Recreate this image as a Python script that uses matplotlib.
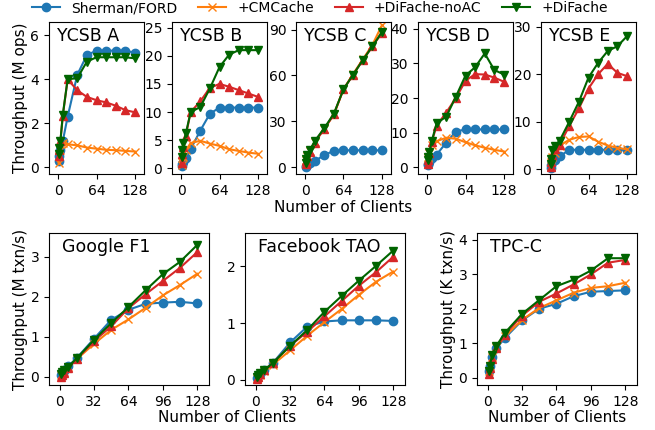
import matplotlib
matplotlib.use("Agg")
from matplotlib import pyplot as plt

# client counts (same for every workload)
clients = [1, 2, 4, 8, 16, 32, 48, 64, 80, 96, 112, 128]

series_names = ["Sherman/FORD", "+CMCache", "+DiFache-noAC", "+DiFache"]
colors = ["tab:blue", "tab:orange", "tab:red", "darkgreen"]
markers = ["o", "x", "^", "v"]

# YCSB throughput, M ops
ycsb_a = [
  [0.3, 0.5, 0.8, 1.2, 2.3, 4.2, 5.1, 5.3, 5.3, 5.3, 5.3, 5.2],
  [0.2, 0.5, 0.8, 1.1, 1.05, 1.0, 0.9, 0.85, 0.8, 0.78, 0.75, 0.72],
  [0.5, 0.8, 1.2, 2.35, 4.0, 3.5, 3.2, 3.05, 2.95, 2.8, 2.6, 2.5],
  [0.6, 0.9, 1.2, 2.4, 4.0, 4.05, 4.8, 5.0, 5.0, 5.0, 5.0, 4.95],
]
ycsb_b = [
  [0.5, 0.8, 1.2, 1.9, 3.4, 6.7, 9.7, 10.8, 10.8, 10.8, 10.8, 10.8],
  [0.6, 1.2, 2.0, 3.2, 4.5, 4.9, 4.4, 4.0, 3.4, 3.1, 2.8, 2.6],
  [1.0, 2.5, 3.8, 5.8, 10.0, 11.9, 14.3, 15.0, 14.5, 13.9, 13.3, 12.7],
  [2.0, 3.2, 4.5, 6.2, 10.0, 10.9, 14.2, 18.0, 20.2, 21.0, 21.0, 21.0],
]
ycsb_c = [
  [0.3, 0.6, 1.2, 2.5, 4.0, 7.8, 10.8, 11.0, 11.0, 11.0, 11.0, 11.0],
  [2.5, 4.5, 7.5, 10.5, 16.5, 25.0, 34.5, 51.0, 61.0, 70.5, 80.0, 93.0],
  [2.0, 4.0, 7.0, 10.0, 16.0, 25.0, 34.5, 51.0, 60.5, 70.0, 79.0, 88.0],
  [3.0, 5.0, 8.0, 11.0, 17.0, 25.5, 35.0, 51.0, 60.5, 70.0, 79.0, 88.5],
]
ycsb_d = [
  [0.5, 0.9, 1.5, 2.5, 3.6, 7.1, 10.3, 10.9, 10.9, 10.9, 10.9, 10.9],
  [1.0, 2.5, 4.0, 6.5, 7.5, 8.5, 8.2, 7.2, 6.3, 5.6, 5.0, 4.5],
  [1.0, 2.0, 4.0, 7.4, 12.0, 15.8, 20.0, 25.0, 26.9, 26.8, 25.9, 24.7],
  [2.0, 3.0, 4.5, 7.6, 12.7, 14.6, 20.4, 26.5, 28.9, 32.9, 28.1, 26.8],
]
ycsb_e = [
  [0.3, 0.8, 1.5, 2.0, 2.7, 4.1, 4.1, 4.1, 4.1, 4.1, 4.1, 4.1],
  [0.7, 1.5, 2.5, 3.5, 5.0, 6.2, 6.8, 6.9, 5.8, 5.0, 4.5, 4.2],
  [0.5, 1.5, 3.0, 4.2, 5.2, 9.1, 12.8, 17.0, 20.0, 22.2, 20.3, 19.6],
  [1.2, 2.2, 4.0, 5.0, 6.0, 10.0, 14.2, 19.3, 22.4, 24.9, 25.9, 28.0],
]

# transactional workloads
google_f1 = [
  [0.05, 0.1, 0.15, 0.27, 0.48, 0.96, 1.43, 1.68, 1.83, 1.86, 1.88, 1.84],
  [0.05, 0.08, 0.13, 0.25, 0.45, 0.83, 1.18, 1.44, 1.73, 2.04, 2.3, 2.58],
  [0.0, 0.05, 0.1, 0.22, 0.45, 0.9, 1.27, 1.72, 2.07, 2.4, 2.73, 3.12],
  [0.08, 0.12, 0.17, 0.26, 0.47, 0.93, 1.35, 1.75, 2.17, 2.57, 2.88, 3.3],
]
facebook_tao = [
  [0.03, 0.06, 0.1, 0.17, 0.3, 0.66, 0.94, 1.03, 1.05, 1.05, 1.05, 1.04],
  [0.03, 0.05, 0.09, 0.15, 0.27, 0.52, 0.78, 1.02, 1.25, 1.5, 1.73, 1.91],
  [0.02, 0.05, 0.1, 0.17, 0.3, 0.6, 0.85, 1.12, 1.39, 1.66, 1.9, 2.17],
  [0.05, 0.08, 0.12, 0.17, 0.3, 0.6, 0.88, 1.2, 1.48, 1.75, 2.01, 2.28],
]
tpc_c = [
  [0.2, 0.35, 0.6, 0.85, 1.15, 1.66, 2.0, 2.14, 2.36, 2.49, 2.51, 2.53],
  [0.2, 0.35, 0.6, 0.88, 1.2, 1.68, 2.02, 2.24, 2.46, 2.6, 2.65, 2.75],
  [0.12, 0.28, 0.55, 0.85, 1.25, 1.8, 2.2, 2.44, 2.7, 2.99, 3.33, 3.41],
  [0.2, 0.35, 0.65, 0.92, 1.3, 1.85, 2.25, 2.65, 2.84, 3.1, 3.46, 3.46],
]

top_titles = ["YCSB A", "YCSB B", "YCSB C", "YCSB D", "YCSB E"]
top_data = [ycsb_a, ycsb_b, ycsb_c, ycsb_d, ycsb_e]
top_yticks = [[0, 2, 4, 6], [0, 5, 10, 15, 20, 25], [0, 30, 60, 90], [0, 10, 20, 30, 40], [0, 10, 20, 30]]
top_ylims = [(-0.3, 6.6), (-1.0, 26.0), (-4.5, 95.0), (-2.0, 42.0), (-1.0, 31.0)]

bot_titles = ["Google F1", "Facebook TAO", "TPC-C"]
bot_data = [google_f1, facebook_tao, tpc_c]
bot_yticks = [[0, 1, 2, 3], [0, 1, 2], [0, 1, 2, 3, 4]]
bot_ylims = [(-0.2, 3.6), (-0.09, 2.59), (-0.21, 4.19)]

W, H = 655.0, 430.0

def draw(ax, data, title, fs_title):
  for vals, c, m, name in zip(data, colors, markers, series_names):
    ax.plot(clients, vals, color=c, marker=m, markersize=6, linewidth=1.5, label=name)
  ax.text(0.08, 0.97, title, transform=ax.transAxes, fontsize=fs_title, va="top", ha="left")
  ax.tick_params(labelsize=10)

fig = plt.figure(figsize=(6.55, 4.3), dpi=100)

# top row
top_lefts = [49, 172, 296, 418, 541]
top_axes = []
for i in range(5):
  ax = fig.add_axes([top_lefts[i] / W, (H - 174) / H, 95 / W, 152 / H])
  draw(ax, top_data[i], top_titles[i], 12.5)
  ax.set_xlim(-15, 143)
  ax.set_xticks([0, 64, 128])
  ax.set_yticks(top_yticks[i])
  ax.set_ylim(*top_ylims[i])
  top_axes.append(ax)
top_axes[0].set_ylabel("Throughput (M ops)", fontsize=11, labelpad=2)
top_axes[2].set_xlabel("Number of Clients", fontsize=11, labelpad=2)

# bottom row
bot_lefts = [49, 245, 477]
bot_axes = []
for i in range(3):
  ax = fig.add_axes([bot_lefts[i] / W, (H - 385) / H, 160 / W, 152 / H])
  draw(ax, bot_data[i], bot_titles[i], 12.5)
  ax.set_xlim(-10, 139)
  ax.set_xticks([0, 32, 64, 96, 128])
  ax.set_yticks(bot_yticks[i])
  ax.set_ylim(*bot_ylims[i])
  bot_axes.append(ax)
bot_axes[0].set_ylabel("Throughput (M txn/s)", fontsize=11, labelpad=2)
bot_axes[2].set_ylabel("Throughput (K txn/s)", fontsize=11, labelpad=2)
bot_axes[2].set_xlabel("Number of Clients", fontsize=11, labelpad=1)
fig.text(227 / W, 1 - 418 / H, "Number of Clients", fontsize=11, ha="center", va="center")

handles, labels = top_axes[0].get_legend_handles_labels()
fig.legend(handles, labels, loc="center", ncol=4, bbox_to_anchor=(320 / W, 1 - 8 / H),
           frameon=False, fontsize=10, columnspacing=1.5, handlelength=2.0, borderaxespad=0)

fig.savefig("out.png", dpi=100)
